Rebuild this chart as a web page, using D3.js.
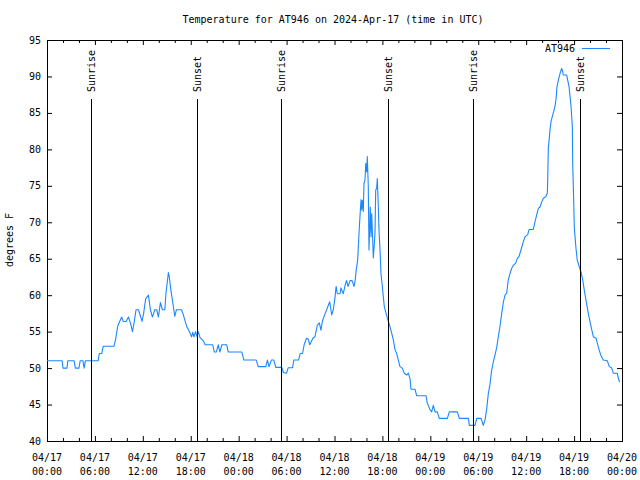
<!DOCTYPE html>
<html><head><meta charset="utf-8">
<script src="https://cdn.jsdelivr.net/npm/d3@7"></script>
<style>body{margin:0;background:#fff}svg{display:block}</style>
</head><body>
<svg id="c" width="640" height="480"></svg>
<script>
const chartTitle = "Temperature for AT946 on 2024-Apr-17 (time in UTC)";
const seriesName = "AT946";
const yAxisLabel = "degrees F";
const startUtc = Date.UTC(2024, 3, 17, 0, 0);
const spanHours = 72;

// hours since 2024-04-17 00:00 UTC
const hours = [0,1.9,2.0,2.5,2.6,3.4,3.55,4.0,4.15,4.5,4.65,4.8,6.4,6.55,6.85,7.05,8.4,8.6,8.85,8.95,
9.35,9.55,9.9,10.2,10.45,10.7,10.9,11.15,11.45,11.9,12.1,12.35,12.7,12.95,13.2,13.5,13.75,13.95,14.2,14.45,
14.75,14.9,15.2,15.3,15.5,15.75,16.0,16.2,16.85,17.1,17.5,17.75,18.1,18.25,18.4,18.6,18.8,18.95,19.15,19.6,
19.8,20.75,20.95,21.2,21.45,21.65,21.9,22.5,22.7,24.4,24.65,26.2,26.45,27.4,27.6,27.8,28.1,28.4,28.65,29.4,
29.6,30.0,30.2,30.75,30.9,31.5,31.7,32.0,32.2,32.5,32.7,32.9,33.3,33.55,33.85,34.1,34.3,34.5,34.8,35.05,
35.4,35.65,35.85,36.05,36.2,36.35,36.7,36.8,37.1,37.3,37.5,37.7,37.95,38.2,38.45,38.6,38.69,38.9,39.07,39.19,
39.32,39.41,39.48,39.61,39.69,39.82,39.91,40.03,40.11,40.23,40.32,40.41,40.48,40.57,40.66,40.78,40.86,40.99,41.07,41.16,
41.28,41.36,41.49,41.57,41.70,41.82,41.99,42.11,42.24,42.41,42.57,42.74,42.95,43.16,43.36,43.58,43.79,43.99,44.20,44.49,
44.74,45.04,45.24,45.45,45.58,46.08,46.29,47.46,47.62,47.96,48.17,48.37,48.59,48.87,49.12,50.13,50.38,51.38,51.63,52.76,
52.88,53.59,53.81,54.35,54.63,54.85,55.06,55.26,55.47,55.68,55.88,56.10,56.31,56.51,56.72,56.94,57.14,57.35,57.56,57.76,
57.98,58.19,58.39,58.69,58.89,59.10,59.35,59.64,59.85,60.19,60.36,60.89,61.11,61.32,61.52,61.73,61.95,62.15,62.45,62.65,
62.70,62.77,62.99,63.11,63.27,63.45,63.61,63.74,63.86,64.03,64.24,64.45,64.58,64.65,65.08,65.20,65.37,65.62,65.78,65.83,
65.95,66.03,66.24,66.40,66.65,66.87,67.08,67.28,67.49,67.78,68.08,68.41,68.75,69.03,69.33,69.66,70.16,70.41,70.71,70.91,
71.41,71.54,71.7];

const temps = [51,51,50,50,51,51,50,50,51,51,50,51,51,52,52,53,53,54,55.7,56,
57,56.4,56.4,57,56.2,55,56.2,58,58,56.4,57.5,59.5,60,58,57,58,58,57,59,58,
58,60.3,63.1,62.6,60.8,59,57.1,58,58,57.2,55.7,55.2,54.3,54.9,54.3,55,54.3,55,54.2,53.7,
53.2,53.2,52.2,52.2,53.2,52.2,53.2,53.2,52.2,52.2,51.1,51.1,50.2,50.2,51.1,50.2,51.1,51.1,50.1,50.1,
49.4,49.3,50.05,50.05,51.1,51.1,52,52,53.2,54.1,54,53.2,54.1,54.3,55.9,56.2,55.2,56.5,57.4,58.1,
59.1,57.3,58,59.6,61.2,60.2,60.2,61,60.2,61.2,62,61.2,62,62,61.2,62.1,63.2,64.8,68.5,70.8,
73.1,71.7,73,71.5,75.3,75.8,78.1,76.9,79.0,74.9,66.2,69.4,72.1,68.0,71.2,67.6,65.1,67.1,68.5,74.4,
74.7,76.0,72.1,68.9,66.2,63.0,61.2,59.8,58.4,57.7,57.05,56.4,55.7,54.8,53.9,52.5,52.0,51.1,50.2,50.0,
49.3,49.05,49.3,48.6,47.1,47.1,46.2,46.2,45.2,44.3,44.0,44.9,44.0,44.0,43.1,43.1,44.0,44.0,43.1,43.1,
42.15,42.15,43.1,43.1,42.15,42.9,44.4,46.5,47.8,49.7,50.8,51.8,52.8,54.3,55.7,57.5,59.0,60.0,60.3,62.1,
63.0,63.7,64.1,64.4,65.05,65.3,66.2,67.3,68.0,68.3,69.0,69.0,70.1,71.0,71.9,72.1,72.8,73.3,73.5,74.0,
76.0,80.1,82.7,83.8,84.5,85.2,85.9,86.9,88.6,89.5,90.4,91.1,90.65,90.2,90.2,89.5,88.6,85.9,83.1,77.9,
73.1,69.2,66.4,64.8,63.9,63.2,62.1,60.7,59.3,57.5,55.9,54.3,54.1,52.9,51.8,51.1,51.0,50.2,50.0,49.3,
49.3,48.6,48.1];

const sunEventHours = [5.45, 18.8, 29.33, 42.75, 53.37, 66.8];
const sunEventNames = ["Sunrise", "Sunset", "Sunrise", "Sunset", "Sunrise", "Sunset"];
const yTickValues = [40, 45, 50, 55, 60, 65, 70, 75, 80, 85, 90, 95];
const majorTickHours = [0, 6, 12, 18, 24, 30, 36, 42, 48, 54, 60, 66, 72];
const minorTickHours = [2, 4, 8, 10, 14, 16, 20, 22, 26, 28, 32, 34, 38, 40, 44, 46, 50, 52, 56, 58, 62, 64, 68, 70];

const FONT = "'DejaVu Sans Mono', 'Liberation Mono', monospace";
const LINE_COLOR = "#1a88ff";
const H = 3600 * 1000;
const toDate = h => new Date(startUtc + h * H);

const L = 47, R = 622, T = 40, B = 441;
const svg = d3.select("#c");

const x = d3.scaleUtc().domain([toDate(0), toDate(spanHours)]).range([L, R]);
const y = d3.scaleLinear().domain([40, 95]).range([B, T]);

svg.append("rect").attr("width", 640).attr("height", 480).attr("fill", "#fff");

// title
svg.append("text").attr("x", 333).attr("y", 23).attr("text-anchor", "middle")
  .attr("font-family", FONT).attr("font-size", 10).text(chartTitle);

// y label
svg.append("text").attr("transform", "translate(13,240) rotate(-90)")
  .attr("text-anchor", "middle").attr("font-family", FONT).attr("font-size", 10).text(yAxisLabel);

function axisGroup(gen, tx, ty) {
  const g = svg.append("g").attr("transform", `translate(${tx},${ty})`).call(gen);
  g.select(".domain").remove();
  g.selectAll("text").remove();
  g.selectAll("line").attr("stroke", "#000");
  return g;
}
const majDates = majorTickHours.map(toDate);
const minDates = minorTickHours.map(toDate);
axisGroup(d3.axisBottom(x).tickValues(majDates).tickSize(-5).tickSizeOuter(0), 0, B);
axisGroup(d3.axisTop(x).tickValues(majDates).tickSize(-5).tickSizeOuter(0), 0, T);
axisGroup(d3.axisBottom(x).tickValues(minDates).tickSize(-3).tickSizeOuter(0), 0, B);
axisGroup(d3.axisTop(x).tickValues(minDates).tickSize(-3).tickSizeOuter(0), 0, T);
axisGroup(d3.axisLeft(y).tickValues(yTickValues).tickSize(-5).tickSizeOuter(0), L, 0);
axisGroup(d3.axisRight(y).tickValues(yTickValues).tickSize(-5).tickSizeOuter(0), R, 0);

// x tick labels
const fmtD = d3.utcFormat("%m/%d"), fmtT = d3.utcFormat("%H:%M");
majDates.forEach(d => {
  const t = svg.append("text").attr("text-anchor", "middle").attr("font-family", FONT).attr("font-size", 10);
  t.append("tspan").attr("x", x(d)).attr("y", 461).text(fmtD(d));
  t.append("tspan").attr("x", x(d)).attr("y", 475).text(fmtT(d));
});
// y tick labels
yTickValues.forEach(v => {
  svg.append("text").attr("x", 41).attr("y", y(v)).attr("dy", "0.35em").attr("text-anchor", "end")
    .attr("font-family", FONT).attr("font-size", 10).text(v);
});

// frame
svg.append("rect").attr("x", L + 0.5).attr("y", T + 0.5).attr("width", R - L).attr("height", B - T)
  .attr("fill", "none").attr("stroke", "#000").attr("shape-rendering", "crispEdges");

// data line
const data = hours.map((h, i) => ({ d: toDate(h), v: temps[i] }));
svg.append("path").datum(data)
  .attr("fill", "none").attr("stroke", LINE_COLOR).attr("stroke-width", 1.1)
  .attr("stroke-linejoin", "round")
  .attr("d", d3.line().x(p => x(p.d)).y(p => y(p.v)));

// sunrise / sunset markers
sunEventHours.forEach((h, i) => {
  const px = Math.round(x(toDate(h))) + 0.5;
  svg.append("line").attr("x1", px).attr("x2", px).attr("y1", 99).attr("y2", B)
    .attr("stroke", "#000").attr("stroke-width", 1);
  svg.append("text").attr("transform", `translate(${px},92) rotate(-90)`)
    .attr("dy", "0.35em").attr("text-anchor", "start")
    .attr("font-family", FONT).attr("font-size", 10).text(sunEventNames[i]);
});

// legend
svg.append("text").attr("x", 575).attr("y", 48).attr("dy", "0.35em").attr("text-anchor", "end")
  .attr("font-family", FONT).attr("font-size", 10).text(seriesName);
svg.append("line").attr("x1", 582).attr("x2", 610).attr("y1", 48.5).attr("y2", 48.5)
  .attr("stroke", LINE_COLOR).attr("stroke-width", 1);
</script>
</body></html>
